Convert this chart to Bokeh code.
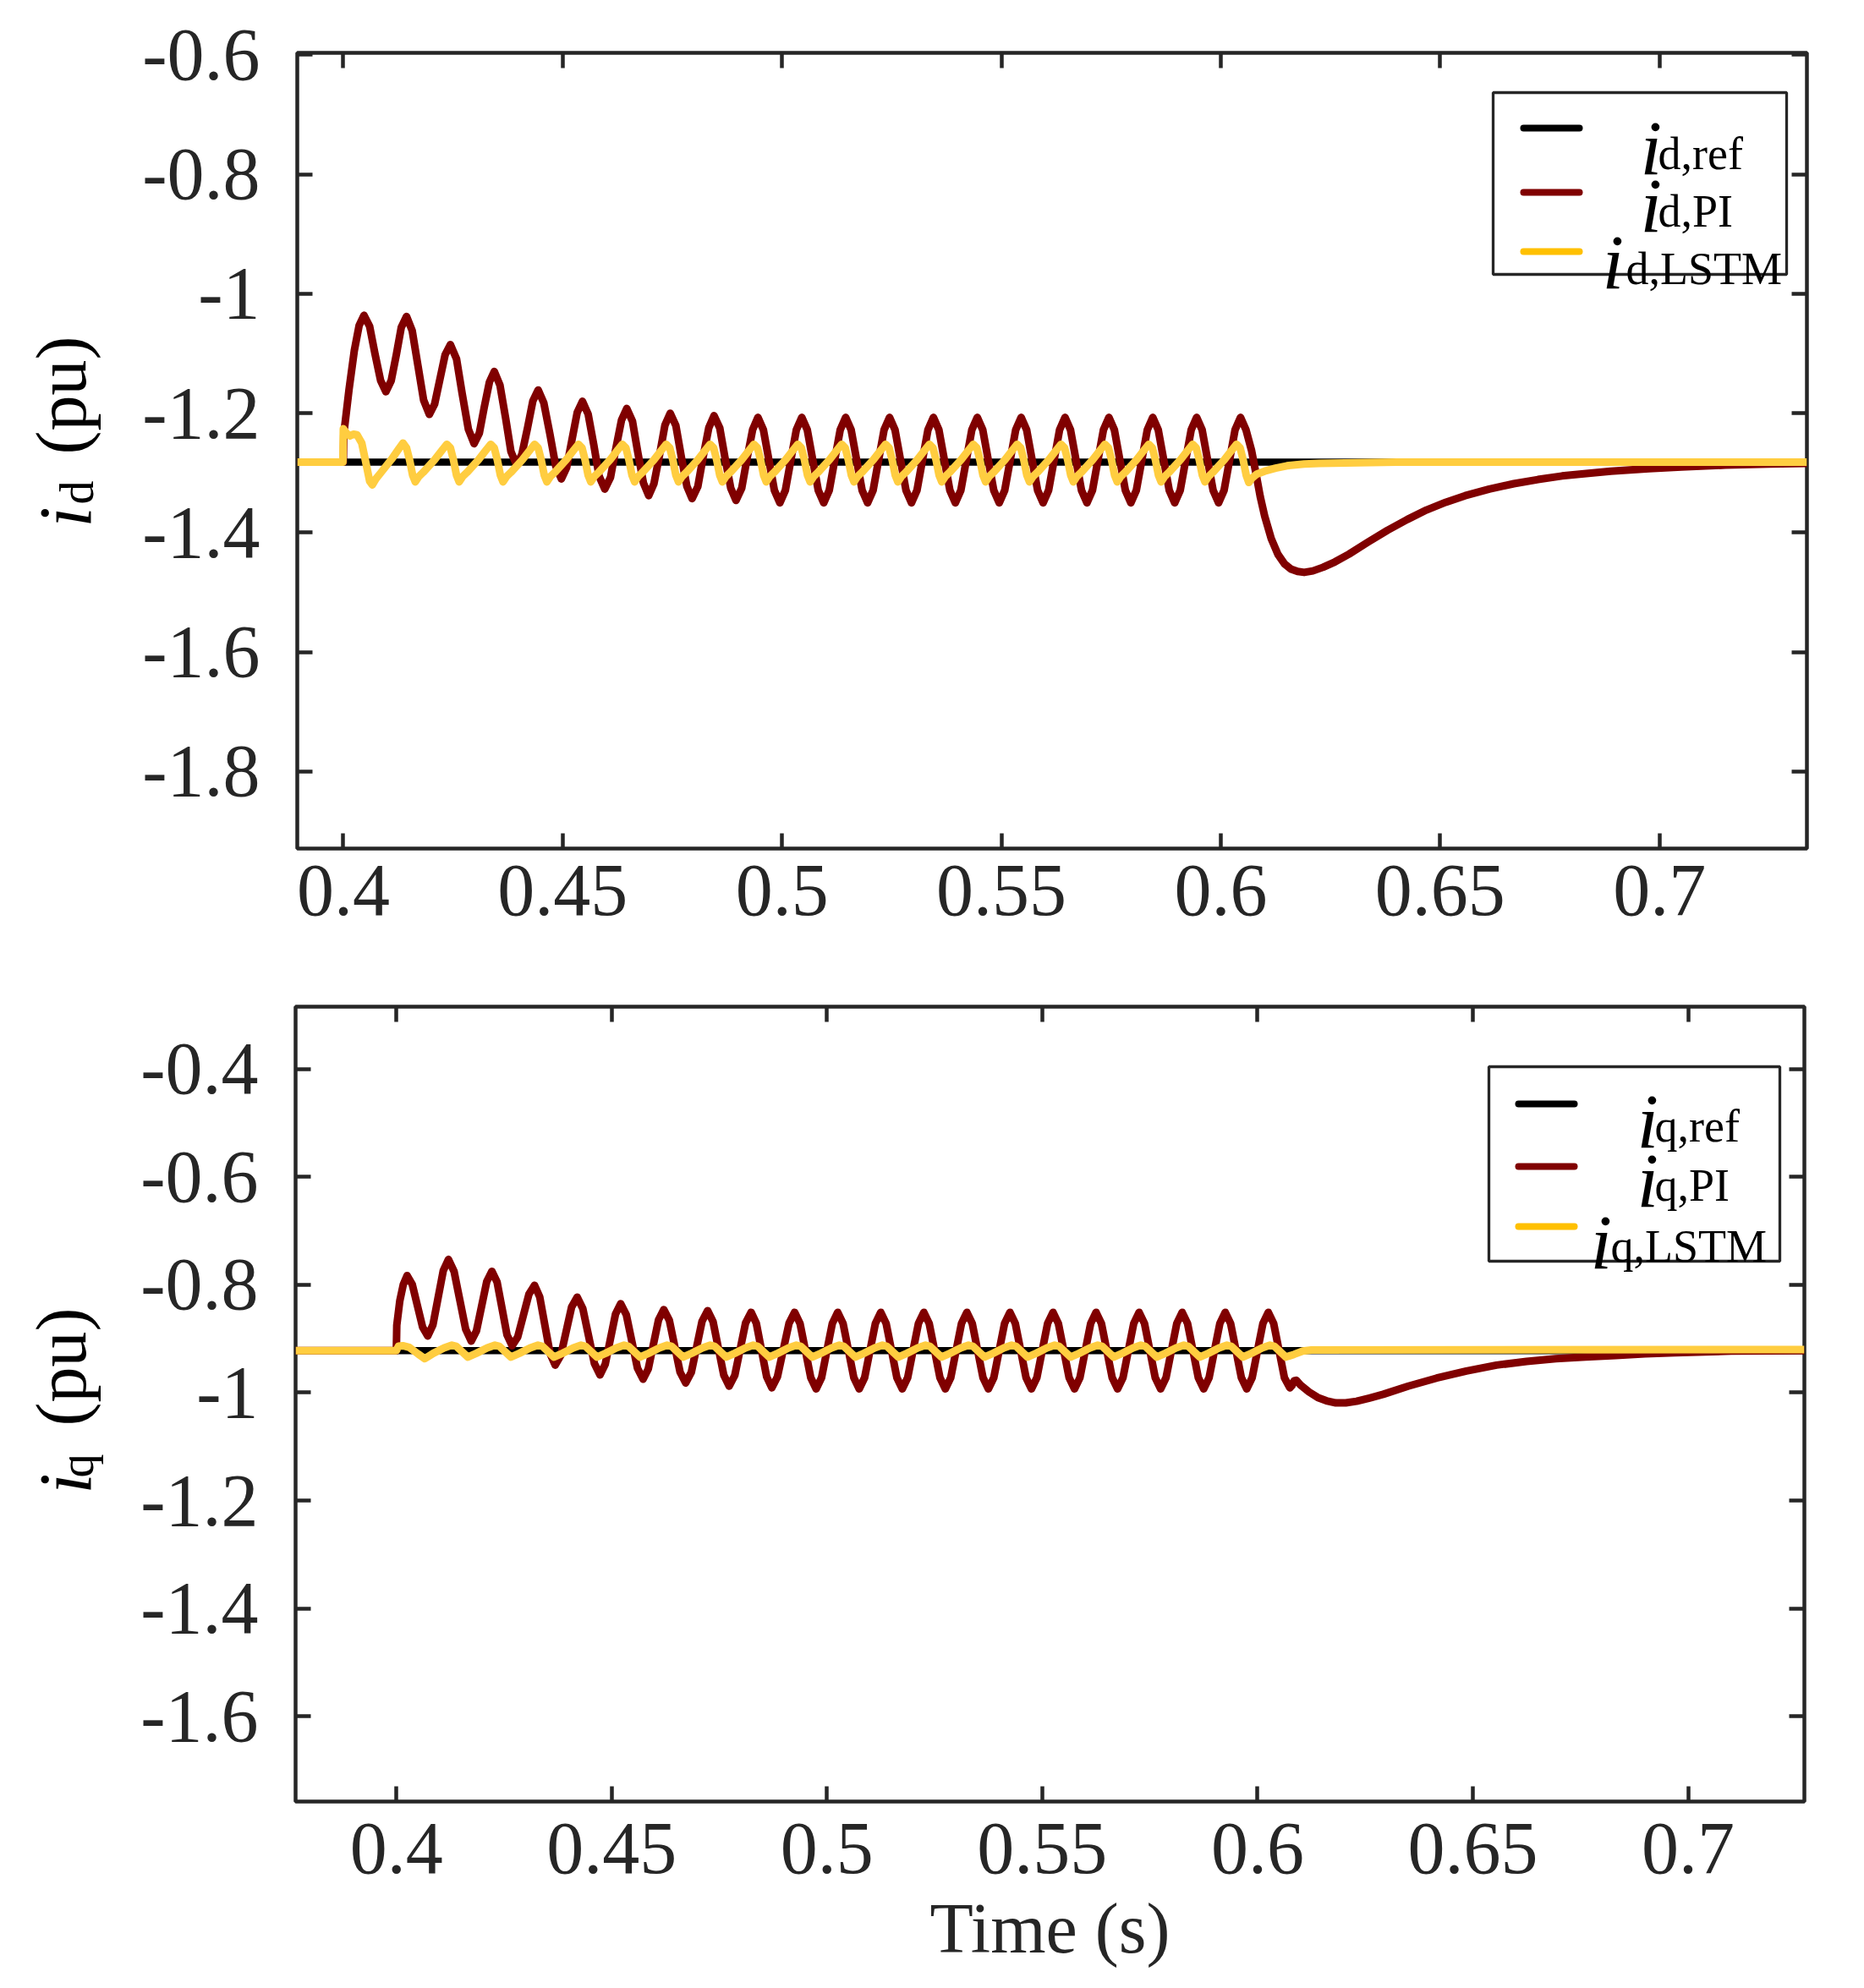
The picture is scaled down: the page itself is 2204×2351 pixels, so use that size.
import math
from bokeh.plotting import figure
from bokeh.models import Range1d, FixedTicker, LinearAxis, Label, BoxAnnotation, Arrow
from bokeh.layouts import column, row
from bokeh.embed import file_html
from bokeh.resources import INLINE

FONT = "Liberation Serif"
INK = "#262626"
C_REF = "#000000"
C_PI = "#800000"
C_LSTM = "#FFCD40"
C_LSTM_KEY = "#FFC000"

# ---- ticks ----
x_ticks = [0.4, 0.45, 0.5, 0.55, 0.6, 0.65, 0.7]
x_tick_labels = ["0.4", "0.45", "0.5", "0.55", "0.6", "0.65", "0.7"]
yd_ticks = [-1.8, -1.6, -1.4, -1.2, -1.0, -0.8, -0.6]
yd_tick_labels = ["-1.8", "-1.6", "-1.4", "-1.2", "-1", "-0.8", "-0.6"]
yq_ticks = [-1.6, -1.4, -1.2, -1.0, -0.8, -0.6, -0.4]
yq_tick_labels = ["-1.6", "-1.4", "-1.2", "-1", "-0.8", "-0.6", "-0.4"]

# ---- d-axis current (pu) ----
ref_d_t = [0.3895, 0.7336]
ref_d = [-1.282, -1.282]

pi_d_t = [
    0.3895, 0.4000, 0.4001, 0.4013, 0.4025, 0.4036, 0.4047,
    0.4060, 0.4072, 0.4085, 0.4097, 0.4109, 0.4121, 0.4132, 0.4144,
    0.4157, 0.4170, 0.4183, 0.4196, 0.4208, 0.4220, 0.4232, 0.4244,
    0.4258, 0.4271, 0.4285, 0.4298, 0.4310, 0.4321, 0.4333, 0.4344,
    0.4357, 0.4370, 0.4382, 0.4395, 0.4407, 0.4420, 0.4432, 0.4444,
    0.4457, 0.4471, 0.4484, 0.4497, 0.4509, 0.4521, 0.4533, 0.4545,
    0.4558, 0.4571, 0.4583, 0.4596, 0.4609, 0.4621, 0.4634, 0.4646,
    0.4659, 0.4671, 0.4684, 0.4696, 0.4708, 0.4721, 0.4733, 0.4745,
    0.4758, 0.4770, 0.4783, 0.4795, 0.4808, 0.4820, 0.4833, 0.4845,
    0.4858, 0.4870, 0.4883, 0.4895, 0.4908, 0.4920, 0.4933, 0.4945,
    0.49575, 0.4970, 0.49825, 0.4995, 0.50075, 0.5020, 0.50325, 0.5045,
    0.50575, 0.5070, 0.50825, 0.5095, 0.51075, 0.5120, 0.51325, 0.5145,
    0.51575, 0.5170, 0.51825, 0.5195, 0.52075, 0.5220, 0.52325, 0.5245,
    0.52575, 0.5270, 0.52825, 0.5295, 0.53075, 0.5320, 0.53325, 0.5345,
    0.53575, 0.5370, 0.53825, 0.5395, 0.54075, 0.5420, 0.54325, 0.5445,
    0.54575, 0.5470, 0.54825, 0.5495, 0.55075, 0.5520, 0.55325, 0.5545,
    0.55575, 0.5570, 0.55825, 0.5595, 0.56075, 0.5620, 0.56325, 0.5645,
    0.56575, 0.5670, 0.56825, 0.5695, 0.57075, 0.5720, 0.57325, 0.5745,
    0.57575, 0.5770, 0.57825, 0.5795, 0.58075, 0.5820, 0.58325, 0.5845,
    0.58575, 0.5870, 0.58825, 0.5895, 0.59075, 0.5920, 0.59325, 0.5945,
    0.59575, 0.5970, 0.59825, 0.5995, 0.60075, 0.6020, 0.60325, 0.6045,
    0.60575, 0.6070, 0.6080, 0.6090, 0.6100, 0.6115, 0.6130, 0.6145,
    0.6160, 0.6175, 0.6190, 0.6210, 0.6233, 0.6260, 0.6292, 0.6335,
    0.6380, 0.6425, 0.6469, 0.6513, 0.6557, 0.6612, 0.6668, 0.6723,
    0.6778, 0.6833, 0.6889, 0.6976, 0.7050, 0.7150, 0.7250, 0.7336,
]
pi_d = [
    -1.282, -1.282, -1.235, -1.160, -1.095, -1.053, -1.036,
    -1.0547, -1.100, -1.1453, -1.164, -1.1456, -1.101, -1.0564, -1.038,
    -1.0619, -1.120, -1.1781, -1.202, -1.1849, -1.1435, -1.1021, -1.085,
    -1.1092, -1.168, -1.2268, -1.251, -1.2333, -1.1905, -1.1477, -1.130,
    -1.1529, -1.2085, -1.2641, -1.287, -1.2686, -1.224, -1.1794, -1.161,
    -1.1828, -1.2355, -1.2882, -1.310, -1.2910, -1.245, -1.1990, -1.180,
    -1.2015, -1.2535, -1.3055, -1.327, -1.3073, -1.2595, -1.2117, -1.192,
    -1.2133, -1.265, -1.3167, -1.338, -1.3179, -1.269, -1.2201, -1.200,
    -1.2209, -1.2715, -1.3221, -1.343, -1.3227, -1.2735, -1.2243, -1.204,
    -1.2247, -1.275, -1.3253, -1.346, -1.3257, -1.2765, -1.2273, -1.207,
    -1.2279, -1.2785, -1.3291, -1.350, -1.3291, -1.2785, -1.2279, -1.207,
    -1.2279, -1.2785, -1.3291, -1.350, -1.3291, -1.2785, -1.2279, -1.207,
    -1.2279, -1.2785, -1.3291, -1.350, -1.3291, -1.2785, -1.2279, -1.207,
    -1.2279, -1.2785, -1.3291, -1.350, -1.3291, -1.2785, -1.2279, -1.207,
    -1.2279, -1.2785, -1.3291, -1.350, -1.3291, -1.2785, -1.2279, -1.207,
    -1.2279, -1.2785, -1.3291, -1.350, -1.3291, -1.2785, -1.2279, -1.207,
    -1.2279, -1.2785, -1.3291, -1.350, -1.3291, -1.2785, -1.2279, -1.207,
    -1.2279, -1.2785, -1.3291, -1.350, -1.3291, -1.2785, -1.2279, -1.207,
    -1.2279, -1.2785, -1.3291, -1.350, -1.3291, -1.2785, -1.2279, -1.207,
    -1.2279, -1.2785, -1.3291, -1.350, -1.3291, -1.2785, -1.2279, -1.207,
    -1.2279, -1.2785, -1.3291, -1.350, -1.3291, -1.2785, -1.2279, -1.207,
    -1.2279, -1.262, -1.300, -1.340, -1.372, -1.410, -1.436, -1.452,
    -1.461, -1.465, -1.4665, -1.464, -1.458, -1.449, -1.436, -1.416,
    -1.396, -1.378, -1.362, -1.349, -1.338, -1.327, -1.318, -1.311,
    -1.305, -1.301, -1.297, -1.293, -1.290, -1.287, -1.285, -1.284,
]

lstm_d_t = [
    0.3895, 0.3999, 0.4000, 0.4008, 0.4015, 0.4023, 0.4031, 0.4042,
    0.4052, 0.4060, 0.4066, 0.4074, 0.4084, 0.4110, 0.4127, 0.4136,
    0.4144, 0.4151, 0.4158, 0.4164, 0.4172, 0.4182, 0.4208, 0.4226, 0.4236,
    0.4244, 0.4251, 0.4258, 0.4264, 0.4272, 0.4282, 0.4308, 0.4326, 0.4336,
    0.4344, 0.4351, 0.4358, 0.4364, 0.4372, 0.4382, 0.4408, 0.4426, 0.4436,
    0.4444, 0.4451, 0.4458, 0.4464, 0.4472, 0.4482, 0.4508, 0.4526, 0.4536,
    0.4544, 0.4551, 0.4558, 0.4564, 0.4572, 0.4582, 0.4608, 0.4626, 0.4636,
    0.4644, 0.4651, 0.4658, 0.4664, 0.4672, 0.4682, 0.4708, 0.4726, 0.4736,
    0.4744, 0.4751, 0.4758, 0.4764, 0.4772, 0.4782, 0.4808, 0.4826, 0.4836,
    0.4844, 0.4851, 0.4858, 0.4864, 0.4872, 0.4882, 0.4908, 0.4926, 0.4936,
    0.4944, 0.4951, 0.4958, 0.4964, 0.4972, 0.4982, 0.5008, 0.5026, 0.5036,
    0.5044, 0.5051, 0.5058, 0.5064, 0.5072, 0.5082, 0.5108, 0.5126, 0.5136,
    0.5144, 0.5151, 0.5158, 0.5164, 0.5172, 0.5182, 0.5208, 0.5226, 0.5236,
    0.5244, 0.5251, 0.5258, 0.5264, 0.5272, 0.5282, 0.5308, 0.5326, 0.5336,
    0.5344, 0.5351, 0.5358, 0.5364, 0.5372, 0.5382, 0.5408, 0.5426, 0.5436,
    0.5444, 0.5451, 0.5458, 0.5464, 0.5472, 0.5482, 0.5508, 0.5526, 0.5536,
    0.5544, 0.5551, 0.5558, 0.5564, 0.5572, 0.5582, 0.5608, 0.5626, 0.5636,
    0.5644, 0.5651, 0.5658, 0.5664, 0.5672, 0.5682, 0.5708, 0.5726, 0.5736,
    0.5744, 0.5751, 0.5758, 0.5764, 0.5772, 0.5782, 0.5808, 0.5826, 0.5836,
    0.5844, 0.5851, 0.5858, 0.5864, 0.5872, 0.5882, 0.5908, 0.5926, 0.5936,
    0.5944, 0.5951, 0.5958, 0.5964, 0.5972, 0.5982, 0.6008, 0.6026, 0.6036,
    0.6044, 0.6051, 0.6058, 0.6064, 0.6072, 0.6082, 0.6100, 0.6125,
    0.6151, 0.6190, 0.6225, 0.6400, 0.7336,
]
lstm_d = [
    -1.282, -1.282, -1.226, -1.234, -1.238, -1.235, -1.236, -1.250,
    -1.285, -1.314, -1.320, -1.310, -1.301, -1.277, -1.259, -1.250,
    -1.258, -1.278, -1.304, -1.315, -1.306, -1.299, -1.278, -1.261, -1.252,
    -1.258, -1.278, -1.304, -1.315, -1.306, -1.299, -1.278, -1.261, -1.252,
    -1.258, -1.278, -1.304, -1.315, -1.306, -1.299, -1.278, -1.261, -1.252,
    -1.258, -1.278, -1.304, -1.315, -1.306, -1.299, -1.278, -1.261, -1.252,
    -1.258, -1.278, -1.304, -1.315, -1.306, -1.299, -1.278, -1.261, -1.252,
    -1.258, -1.278, -1.304, -1.315, -1.306, -1.299, -1.278, -1.261, -1.252,
    -1.258, -1.278, -1.304, -1.315, -1.306, -1.299, -1.278, -1.261, -1.252,
    -1.258, -1.278, -1.304, -1.315, -1.306, -1.299, -1.278, -1.261, -1.252,
    -1.258, -1.278, -1.304, -1.315, -1.306, -1.299, -1.278, -1.261, -1.252,
    -1.258, -1.278, -1.304, -1.315, -1.306, -1.299, -1.278, -1.261, -1.252,
    -1.258, -1.278, -1.304, -1.315, -1.306, -1.299, -1.278, -1.261, -1.252,
    -1.258, -1.278, -1.304, -1.315, -1.306, -1.299, -1.278, -1.261, -1.252,
    -1.258, -1.278, -1.304, -1.315, -1.306, -1.299, -1.278, -1.261, -1.252,
    -1.258, -1.278, -1.304, -1.315, -1.306, -1.299, -1.278, -1.261, -1.252,
    -1.258, -1.278, -1.304, -1.315, -1.306, -1.299, -1.278, -1.261, -1.252,
    -1.258, -1.278, -1.304, -1.315, -1.306, -1.299, -1.278, -1.261, -1.252,
    -1.258, -1.278, -1.304, -1.315, -1.306, -1.299, -1.278, -1.261, -1.252,
    -1.258, -1.278, -1.304, -1.315, -1.306, -1.299, -1.278, -1.261, -1.252,
    -1.258, -1.278, -1.304, -1.315, -1.306, -1.299, -1.278, -1.261, -1.252,
    -1.258, -1.278, -1.304, -1.316, -1.308, -1.302, -1.297, -1.292,
    -1.288, -1.285, -1.284, -1.282, -1.282,
]

# ---- q-axis current (pu) ----
ref_q_t = [0.3766, 0.7270]
ref_q = [-0.922, -0.922]

pi_q_t = [
    0.3766, 0.4000, 0.4001, 0.4008, 0.4016, 0.4025,
    0.4037, 0.4049, 0.4061, 0.4073, 0.4085, 0.4097, 0.4109, 0.4121,
    0.4134, 0.41475, 0.4161, 0.4174, 0.4186, 0.4198, 0.4210, 0.4222,
    0.4234, 0.42455, 0.4257, 0.4269, 0.4282, 0.4295, 0.4308, 0.4321,
    0.4333, 0.4345, 0.4357, 0.4369, 0.4382, 0.43945, 0.4407, 0.4420,
    0.4433, 0.44465, 0.4460, 0.4473, 0.4485, 0.4497, 0.4509, 0.4521,
    0.4534, 0.4547, 0.4560, 0.4573, 0.4585, 0.4597, 0.4609, 0.4621,
    0.4634, 0.46465, 0.4659, 0.4672, 0.4685, 0.46975, 0.4710, 0.4723,
    0.47355, 0.4748, 0.47605, 0.4773, 0.4786, 0.47985, 0.4811, 0.4824,
    0.4836, 0.4848, 0.4860, 0.4872, 0.4885, 0.48985, 0.4912, 0.4925,
    0.49375, 0.4950, 0.49625, 0.4975, 0.49875, 0.5000, 0.50125, 0.5025,
    0.50375, 0.5050, 0.50625, 0.5075, 0.50875, 0.5100, 0.51125, 0.5125,
    0.51375, 0.5150, 0.51625, 0.5175, 0.51875, 0.5200, 0.52125, 0.5225,
    0.52375, 0.5250, 0.52625, 0.5275, 0.52875, 0.5300, 0.53125, 0.5325,
    0.53375, 0.5350, 0.53625, 0.5375, 0.53875, 0.5400, 0.54125, 0.5425,
    0.54375, 0.5450, 0.54625, 0.5475, 0.54875, 0.5500, 0.55125, 0.5525,
    0.55375, 0.5550, 0.55625, 0.5575, 0.55875, 0.5600, 0.56125, 0.5625,
    0.56375, 0.5650, 0.56625, 0.5675, 0.56875, 0.5700, 0.57125, 0.5725,
    0.57375, 0.5750, 0.57625, 0.5775, 0.57875, 0.5800, 0.58125, 0.5825,
    0.58375, 0.5850, 0.58625, 0.5875, 0.58875, 0.5900, 0.59125, 0.5925,
    0.59375, 0.5950, 0.59625, 0.5975, 0.59875, 0.6000, 0.60125, 0.6025,
    0.60375, 0.6050, 0.60625, 0.6075, 0.6080, 0.6085, 0.6090, 0.6100,
    0.6120, 0.6140, 0.6160, 0.6182, 0.6205, 0.6230, 0.6260, 0.6292,
    0.6350, 0.6416, 0.6485, 0.6555, 0.6625, 0.6693, 0.6762, 0.6832,
    0.6900, 0.6970, 0.7100, 0.7270,
]
pi_q = [
    -0.922, -0.922, -0.875, -0.830, -0.800, -0.783,
    -0.7994, -0.839, -0.8786, -0.895, -0.8743, -0.824, -0.7737, -0.753,
    -0.7751, -0.8288, -0.8824, -0.9045, -0.8856, -0.8398, -0.7939, -0.775,
    -0.7951, -0.844, -0.8929, -0.913, -0.8966, -0.857, -0.8174, -0.801,
    -0.8226, -0.875, -0.9274, -0.949, -0.9306, -0.886, -0.8414, -0.823,
    -0.844, -0.895, -0.946, -0.967, -0.9477, -0.901, -0.8543, -0.835,
    -0.8554, -0.905, -0.9546, -0.975, -0.9562, -0.9105, -0.8648, -0.846,
    -0.8659, -0.914, -0.9621, -0.982, -0.9624, -0.915, -0.8676, -0.848,
    -0.8684, -0.918, -0.9676, -0.988, -0.968, -0.9195, -0.871, -0.851,
    -0.8714, -0.921, -0.9706, -0.991, -0.9706, -0.921, -0.8714, -0.851,
    -0.8717, -0.922, -0.9723, -0.993, -0.9723, -0.922, -0.8717, -0.851,
    -0.8717, -0.922, -0.9723, -0.993, -0.9723, -0.922, -0.8717, -0.851,
    -0.8717, -0.922, -0.9723, -0.993, -0.9723, -0.922, -0.8717, -0.851,
    -0.8717, -0.922, -0.9723, -0.993, -0.9723, -0.922, -0.8717, -0.851,
    -0.8717, -0.922, -0.9723, -0.993, -0.9723, -0.922, -0.8717, -0.851,
    -0.8717, -0.922, -0.9723, -0.993, -0.9723, -0.922, -0.8717, -0.851,
    -0.8717, -0.922, -0.9723, -0.993, -0.9723, -0.922, -0.8717, -0.851,
    -0.8717, -0.922, -0.9723, -0.993, -0.9723, -0.922, -0.8717, -0.851,
    -0.8717, -0.922, -0.9723, -0.993, -0.9723, -0.922, -0.8717, -0.851,
    -0.8717, -0.922, -0.9723, -0.993, -0.9723, -0.922, -0.8717, -0.851,
    -0.8717, -0.922, -0.9723, -0.993, -0.9723, -0.922, -0.8717, -0.851,
    -0.8717, -0.922, -0.9723, -0.991, -0.987, -0.978, -0.977, -0.986,
    -0.999, -1.009, -1.015, -1.019, -1.019, -1.016, -1.010, -1.003,
    -0.988, -0.973, -0.960, -0.949, -0.942, -0.937, -0.934, -0.931,
    -0.928, -0.926, -0.923, -0.922,
]

lstm_q_t = [
    0.3766, 0.4000, 0.4005, 0.4015, 0.4030, 0.4050, 0.4066,
    0.4086, 0.4111, 0.4129, 0.4139, 0.4151, 0.4166,
    0.4186, 0.4211, 0.4229, 0.4239, 0.4251, 0.4266,
    0.4286, 0.4311, 0.4329, 0.4339, 0.4351, 0.4366,
    0.4386, 0.4411, 0.4429, 0.4439, 0.4451, 0.4466,
    0.4486, 0.4511, 0.4529, 0.4539, 0.4551, 0.4566,
    0.4586, 0.4611, 0.4629, 0.4639, 0.4651, 0.4666,
    0.4686, 0.4711, 0.4729, 0.4739, 0.4751, 0.4766,
    0.4786, 0.4811, 0.4829, 0.4839, 0.4851, 0.4866,
    0.4886, 0.4911, 0.4929, 0.4939, 0.4951, 0.4966,
    0.4986, 0.5011, 0.5029, 0.5039, 0.5051, 0.5066,
    0.5086, 0.5111, 0.5129, 0.5139, 0.5151, 0.5166,
    0.5186, 0.5211, 0.5229, 0.5239, 0.5251, 0.5266,
    0.5286, 0.5311, 0.5329, 0.5339, 0.5351, 0.5366,
    0.5386, 0.5411, 0.5429, 0.5439, 0.5451, 0.5466,
    0.5486, 0.5511, 0.5529, 0.5539, 0.5551, 0.5566,
    0.5586, 0.5611, 0.5629, 0.5639, 0.5651, 0.5666,
    0.5686, 0.5711, 0.5729, 0.5739, 0.5751, 0.5766,
    0.5786, 0.5811, 0.5829, 0.5839, 0.5851, 0.5866,
    0.5886, 0.5911, 0.5929, 0.5939, 0.5951, 0.5966,
    0.5986, 0.6011, 0.6029, 0.6039, 0.6051, 0.6066,
    0.6085, 0.6105, 0.6125, 0.7270,
]
lstm_q = [
    -0.922, -0.922, -0.914, -0.913, -0.916, -0.928, -0.937,
    -0.927, -0.917, -0.912, -0.914, -0.923, -0.934,
    -0.927, -0.917, -0.912, -0.914, -0.923, -0.934,
    -0.927, -0.917, -0.912, -0.914, -0.923, -0.934,
    -0.927, -0.917, -0.912, -0.914, -0.923, -0.934,
    -0.927, -0.917, -0.912, -0.914, -0.923, -0.934,
    -0.927, -0.917, -0.912, -0.914, -0.923, -0.934,
    -0.927, -0.917, -0.912, -0.914, -0.923, -0.934,
    -0.927, -0.917, -0.912, -0.914, -0.923, -0.934,
    -0.927, -0.917, -0.912, -0.914, -0.923, -0.934,
    -0.927, -0.917, -0.912, -0.914, -0.923, -0.934,
    -0.927, -0.917, -0.912, -0.914, -0.923, -0.934,
    -0.927, -0.917, -0.912, -0.914, -0.923, -0.934,
    -0.927, -0.917, -0.912, -0.914, -0.923, -0.934,
    -0.927, -0.917, -0.912, -0.914, -0.923, -0.934,
    -0.927, -0.917, -0.912, -0.914, -0.923, -0.934,
    -0.927, -0.917, -0.912, -0.914, -0.923, -0.934,
    -0.927, -0.917, -0.912, -0.914, -0.923, -0.934,
    -0.927, -0.917, -0.912, -0.914, -0.923, -0.934,
    -0.927, -0.917, -0.912, -0.914, -0.923, -0.934,
    -0.927, -0.917, -0.912, -0.914, -0.923, -0.934,
    -0.929, -0.923, -0.921, -0.920,
]

for a, b in [(pi_d_t, pi_d), (lstm_d_t, lstm_d), (pi_q_t, pi_q), (lstm_q_t, lstm_q)]:
    assert len(a) == len(b), (len(a), len(b))

key_subs_d = ["d,ref", "d,PI", "d,LSTM"]
key_subs_q = ["q,ref", "q,PI", "q,LSTM"]
key_colors = [C_REF, C_PI, C_LSTM_KEY]

LAB_W = 160


def style_axis(ax, ticks, labels, standoff):
    ax.ticker = FixedTicker(ticks=ticks)
    ax.major_label_overrides = dict(zip(ticks, labels))
    ax.major_label_text_font = FONT
    ax.major_label_text_font_size = "88px"
    ax.major_label_text_color = INK
    ax.major_label_standoff = standoff
    ax.major_tick_in = 18
    ax.major_tick_out = 0
    ax.major_tick_line_width = 4.5
    ax.major_tick_line_color = INK
    ax.minor_tick_line_color = None
    ax.axis_line_color = None


def mirror_axis(p, ticks, side):
    ax = LinearAxis()
    style_axis(ax, ticks, ["" for _ in ticks], 0)
    ax.major_label_text_font_size = "1px"
    p.add_layout(ax, side)


def make_panel(x_rng, y_rng, y_ticks, y_labels, height, borders, x_standoff):
    left, right, top, bottom = borders
    p = figure(width=2196 - LAB_W, height=height,
               x_range=Range1d(*x_rng), y_range=Range1d(*y_rng),
               output_backend="svg", toolbar_location=None, tools="",
               min_border_left=left - LAB_W, min_border_right=right,
               min_border_top=top, min_border_bottom=bottom)
    p.xgrid.visible = False
    p.ygrid.visible = False
    p.outline_line_color = INK
    p.outline_line_width = 4.5
    p.outline_line_alpha = 1
    xax = p.xaxis[0]
    style_axis(xax, x_ticks, x_tick_labels, x_standoff)
    style_axis(p.yaxis[0], y_ticks, y_labels, 44)
    mirror_axis(p, x_ticks, "above")
    mirror_axis(p, y_ticks, "right")
    return p, xax


def label_panel(height, sub, centers):
    # rotated y-axis title "i_sub (pu)"; the row aligns this frame with the plot frame,
    # so the y positions are measured up from the plot frame's bottom edge
    f = figure(width=LAB_W, height=height, x_range=Range1d(0, LAB_W), y_range=Range1d(0, height),
               output_backend="svg", toolbar_location=None, tools="", min_border=0,
               x_axis_location=None, y_axis_location=None)
    f.outline_line_color = None
    f.xgrid.visible = False
    f.ygrid.visible = False
    pieces = [("i", "88px", "italic"), (sub, "56px", "normal"), ("(pu)", "84px", "normal")]
    for (txt, size, style), (x, y) in zip(pieces, centers):
        f.add_layout(Label(x=x, y=y, x_units="screen", y_units="screen", text=txt,
                           angle=math.pi / 2, text_font=FONT, text_font_size=size,
                           text_font_style=style, text_color="#000000",
                           text_align="center", text_baseline="middle"))
    return f


def add_key(p, box, sample_x, rows, subs):
    left, right, bottom, top = box
    p.add_layout(BoxAnnotation(left=left, right=right, bottom=bottom, top=top,
                               left_units="screen", right_units="screen",
                               bottom_units="screen", top_units="screen",
                               fill_color="white", fill_alpha=1,
                               line_color=INK, line_width=3.3, line_alpha=1))
    for color, sub, (ly, ix, iy, sx, sy) in zip(key_colors, subs, rows):
        p.add_layout(Arrow(end=None, x_start=sample_x[0], x_end=sample_x[1],
                           y_start=ly, y_end=ly, start_units="screen", end_units="screen",
                           line_color=color, line_width=8, line_cap="round"))
        p.add_layout(Label(x=ix, y=iy, x_units="screen", y_units="screen", text="i",
                           text_font=FONT, text_font_style="italic", text_font_size="92px",
                           text_baseline="alphabetic", text_color="#000000"))
        p.add_layout(Label(x=sx, y=sy, x_units="screen", y_units="screen", text=sub,
                           text_font=FONT, text_font_size="54px",
                           text_baseline="alphabetic", text_color="#000000"))


# ---- top panel: i_d ----
H1 = 1158
FB1 = 1003  # frame bottom, page pixels
p1, x1 = make_panel((0.3895, 0.7336), (-1.929, -0.5965), yd_ticks, yd_tick_labels,
                    H1, (351, 60, 62, 155), 20)
p1.line(ref_d_t, ref_d, line_color=C_REF, line_width=8.5)
p1.line(pi_d_t, pi_d, line_color=C_PI, line_width=9, line_join="round")
p1.line(lstm_d_t, lstm_d, line_color=C_LSTM, line_width=9, line_join="round")
add_key(p1, (1414, 1761, 679, 894), (1450, 1516),
        [(852, 1588, 829, 1609, 822), (776, 1588, 761, 1609, 754), (706, 1543, 694, 1571, 686)],
        key_subs_d)
lab1 = label_panel(H1, "d", [(77, FB1 - 611), (90, FB1 - 582), (72, FB1 - 467)])

# ---- bottom panel: i_q ----
H2 = 1185
FB2 = 2130  # frame bottom, page pixels
p2, x2 = make_panel((0.3766, 0.7270), (-1.758, -0.2845), yq_ticks, yq_tick_labels,
                    H2, (349, 63, 32, 213), 26)
p2.line(ref_q_t, ref_q, line_color=C_REF, line_width=8.5)
p2.line(pi_q_t, pi_q, line_color=C_PI, line_width=9, line_join="round")
p2.line(lstm_q_t, lstm_q, line_color=C_LSTM, line_width=9, line_join="round")
x2.axis_label = "Time (s)"
x2.axis_label_text_font = FONT
x2.axis_label_text_font_size = "84px"
x2.axis_label_text_font_style = "normal"
x2.axis_label_text_color = INK
x2.axis_label_standoff = 16
add_key(p2, (1411, 1755, 639, 869), (1446, 1512),
        [(825, 1586, 805, 1607, 799), (751, 1586, 735, 1607, 729), (680, 1531, 662, 1555, 657)],
        key_subs_q)
lab2 = label_panel(H2, "q", [(77, FB2 - 1754), (90, FB2 - 1733), (72, FB2 - 1616)])

layout = column(row(lab1, p1), row(lab2, p2))
open("out.html", "w").write(file_html(layout, INLINE))
